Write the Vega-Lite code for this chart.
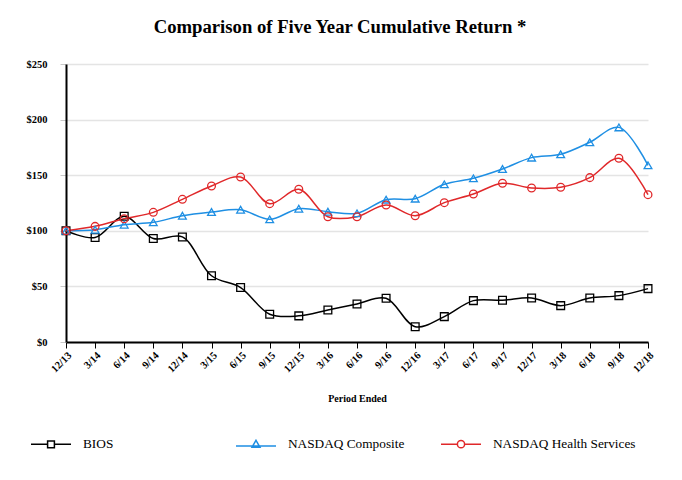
{
  "$schema": "https://vega.github.io/schema/vega-lite/v6.json",
  "width": 582,
  "height": 278,
  "autosize": {"type": "none"},
  "padding": {"left": 66, "top": 64, "right": 34, "bottom": 138},
  "background": "white",
  "title": {
    "text": "Comparison of Five Year Cumulative Return *",
    "font": "Liberation Serif",
    "fontSize": 18.7,
    "fontWeight": "bold",
    "color": "black",
    "anchor": "middle",
    "dx": -17,
    "offset": 22
  },
  "config": {
    "view": {"stroke": null}
  },
  "data": {
    "values": [
      {"period": "12/13", "series": "BIOS", "value": 100},
      {"period": "3/14", "series": "BIOS", "value": 94},
      {"period": "6/14", "series": "BIOS", "value": 113},
      {"period": "9/14", "series": "BIOS", "value": 93},
      {"period": "12/14", "series": "BIOS", "value": 94.5},
      {"period": "3/15", "series": "BIOS", "value": 59.6},
      {"period": "6/15", "series": "BIOS", "value": 49},
      {"period": "9/15", "series": "BIOS", "value": 25},
      {"period": "12/15", "series": "BIOS", "value": 23.5},
      {"period": "3/16", "series": "BIOS", "value": 28.8},
      {"period": "6/16", "series": "BIOS", "value": 34.2},
      {"period": "9/16", "series": "BIOS", "value": 39.3},
      {"period": "12/16", "series": "BIOS", "value": 13.8},
      {"period": "3/17", "series": "BIOS", "value": 22.8},
      {"period": "6/17", "series": "BIOS", "value": 37.2},
      {"period": "9/17", "series": "BIOS", "value": 37.5},
      {"period": "12/17", "series": "BIOS", "value": 39.6},
      {"period": "3/18", "series": "BIOS", "value": 32.7},
      {"period": "6/18", "series": "BIOS", "value": 39.6},
      {"period": "9/18", "series": "BIOS", "value": 41.7},
      {"period": "12/18", "series": "BIOS", "value": 48},
      {"period": "12/13", "series": "NASDAQ Composite", "value": 100},
      {"period": "3/14", "series": "NASDAQ Composite", "value": 101},
      {"period": "6/14", "series": "NASDAQ Composite", "value": 105.5},
      {"period": "9/14", "series": "NASDAQ Composite", "value": 107.6},
      {"period": "12/14", "series": "NASDAQ Composite", "value": 113.6},
      {"period": "3/15", "series": "NASDAQ Composite", "value": 116.9},
      {"period": "6/15", "series": "NASDAQ Composite", "value": 119},
      {"period": "9/15", "series": "NASDAQ Composite", "value": 110.3},
      {"period": "12/15", "series": "NASDAQ Composite", "value": 119.9},
      {"period": "3/16", "series": "NASDAQ Composite", "value": 117.2},
      {"period": "6/16", "series": "NASDAQ Composite", "value": 115.7},
      {"period": "9/16", "series": "NASDAQ Composite", "value": 128},
      {"period": "12/16", "series": "NASDAQ Composite", "value": 128.9},
      {"period": "3/17", "series": "NASDAQ Composite", "value": 141.8},
      {"period": "6/17", "series": "NASDAQ Composite", "value": 147.2},
      {"period": "9/17", "series": "NASDAQ Composite", "value": 155.6},
      {"period": "12/17", "series": "NASDAQ Composite", "value": 165.8},
      {"period": "3/18", "series": "NASDAQ Composite", "value": 168.8},
      {"period": "6/18", "series": "NASDAQ Composite", "value": 179.6},
      {"period": "9/18", "series": "NASDAQ Composite", "value": 193},
      {"period": "12/18", "series": "NASDAQ Composite", "value": 158.9},
      {"period": "12/13", "series": "NASDAQ Health Services", "value": 100},
      {"period": "3/14", "series": "NASDAQ Health Services", "value": 104},
      {"period": "6/14", "series": "NASDAQ Health Services", "value": 110.9},
      {"period": "9/14", "series": "NASDAQ Health Services", "value": 116.6},
      {"period": "12/14", "series": "NASDAQ Health Services", "value": 128.3},
      {"period": "3/15", "series": "NASDAQ Health Services", "value": 140.3},
      {"period": "6/15", "series": "NASDAQ Health Services", "value": 148.4},
      {"period": "9/15", "series": "NASDAQ Health Services", "value": 124.4},
      {"period": "12/15", "series": "NASDAQ Health Services", "value": 137.3},
      {"period": "3/16", "series": "NASDAQ Health Services", "value": 112.7},
      {"period": "6/16", "series": "NASDAQ Health Services", "value": 112.7},
      {"period": "9/16", "series": "NASDAQ Health Services", "value": 123.2},
      {"period": "12/16", "series": "NASDAQ Health Services", "value": 113.6},
      {"period": "3/17", "series": "NASDAQ Health Services", "value": 125.3},
      {"period": "6/17", "series": "NASDAQ Health Services", "value": 133.1},
      {"period": "9/17", "series": "NASDAQ Health Services", "value": 142.7},
      {"period": "12/17", "series": "NASDAQ Health Services", "value": 138.5},
      {"period": "3/18", "series": "NASDAQ Health Services", "value": 139.1},
      {"period": "6/18", "series": "NASDAQ Health Services", "value": 147.8},
      {"period": "9/18", "series": "NASDAQ Health Services", "value": 165.2},
      {"period": "12/18", "series": "NASDAQ Health Services", "value": 132.5}
    ]
  },
  "encoding": {
    "x": {
      "field": "period",
      "type": "ordinal",
      "sort": null,
      "scale": {"type": "point", "padding": 0},
      "axis": {
        "title": "Period Ended",
        "titleFont": "Liberation Serif",
        "titleFontSize": 10,
        "titleFontWeight": "bold",
        "titleColor": "black",
        "titlePadding": 19,
        "labelFont": "Liberation Serif",
        "labelFontWeight": "bold",
        "labelColor": "black",
        "labelAngle": -45,
        "labelFontSize": 10.5,
        "labelPadding": 2,
        "domainColor": "black",
        "domainWidth": 2,
        "tickColor": "black",
        "tickSize": 6,
        "grid": false
      }
    },
    "y": {
      "field": "value",
      "type": "quantitative",
      "scale": {"domain": [0, 250]},
      "axis": {
        "title": null,
        "values": [0, 50, 100, 150, 200, 250],
        "format": "$.0f",
        "labelFont": "Liberation Serif",
        "labelFontWeight": "bold",
        "labelColor": "black",
        "labelFontSize": 10.5,
        "labelPadding": 13,
        "domainColor": "black",
        "domainWidth": 2,
        "tickColor": "#c8c8c8",
        "tickSize": 6,
        "gridColor": "#e4e4e4",
        "gridWidth": 1.5
      }
    }
  },
  "layer": [
    {
      "mark": {"type": "line", "interpolate": "catmull-rom", "strokeWidth": 1.5},
      "encoding": {
        "color": {
          "field": "series",
          "type": "nominal",
          "scale": {
            "domain": ["BIOS", "NASDAQ Composite", "NASDAQ Health Services"],
            "range": ["#000000", "#1f8fe3", "#e0282a"]
          },
          "legend": null
        }
      }
    },
    {
      "mark": {"type": "point", "filled": false, "strokeWidth": 1.3, "opacity": 1, "size": 60},
      "encoding": {
        "color": {
          "field": "series",
          "type": "nominal",
          "scale": {
            "domain": ["BIOS", "NASDAQ Composite", "NASDAQ Health Services"],
            "range": ["#000000", "#1f8fe3", "#e0282a"]
          },
          "legend": null
        },
        "shape": {
          "field": "series",
          "type": "nominal",
          "scale": {
            "domain": ["BIOS", "NASDAQ Composite", "NASDAQ Health Services"],
            "range": ["square", "triangle-up", "circle"]
          },
          "legend": null
        }
      }
    },
    {
      "transform": [{"filter": "datum.value < 0"}],
      "mark": {"type": "point", "filled": false, "strokeWidth": 1.5, "opacity": 1},
      "encoding": {
        "color": {
          "field": "series",
          "type": "nominal",
          "scale": {
            "domain": ["BIOS", "NASDAQ Composite", "NASDAQ Health Services"],
            "range": ["#000000", "#1f8fe3", "#e0282a"]
          },
          "legend": {
            "title": null,
            "orient": "none",
            "legendX": -36,
            "legendY": 359,
            "direction": "horizontal",
            "columns": 3,
            "gridAlign": "all",
            "columnPadding": 7,
            "labelFont": "Liberation Serif",
            "labelFontSize": 13.3,
            "labelColor": "black",
            "labelOffset": 11,
            "symbolSize": 1600,
            "symbolStrokeWidth": 1.5
          }
        },
        "shape": {
          "field": "series",
          "type": "nominal",
          "scale": {
            "domain": ["BIOS", "NASDAQ Composite", "NASDAQ Health Services"],
            "range": [
              "M-1,0H-0.17M0.17,0H1M-0.17,-0.17H0.17V0.17H-0.17Z",
              "M-1,0.08H1M0,-0.2L0.2,0.15H-0.2Z",
              "M-1,0H-0.18M0.18,0H1M0.18,0A0.18,0.18 0 1,1 -0.18,0A0.18,0.18 0 1,1 0.18,0Z"
            ]
          },
          "legend": {
            "title": null,
            "orient": "none",
            "legendX": -36,
            "legendY": 359,
            "direction": "horizontal",
            "columns": 3,
            "gridAlign": "all",
            "columnPadding": 7,
            "labelFont": "Liberation Serif",
            "labelFontSize": 13.3,
            "labelColor": "black",
            "labelOffset": 11,
            "symbolSize": 1600,
            "symbolStrokeWidth": 1.5
          }
        }
      }
    }
  ],
  "resolve": {"scale": {"shape": "independent", "color": "independent"}}
}
